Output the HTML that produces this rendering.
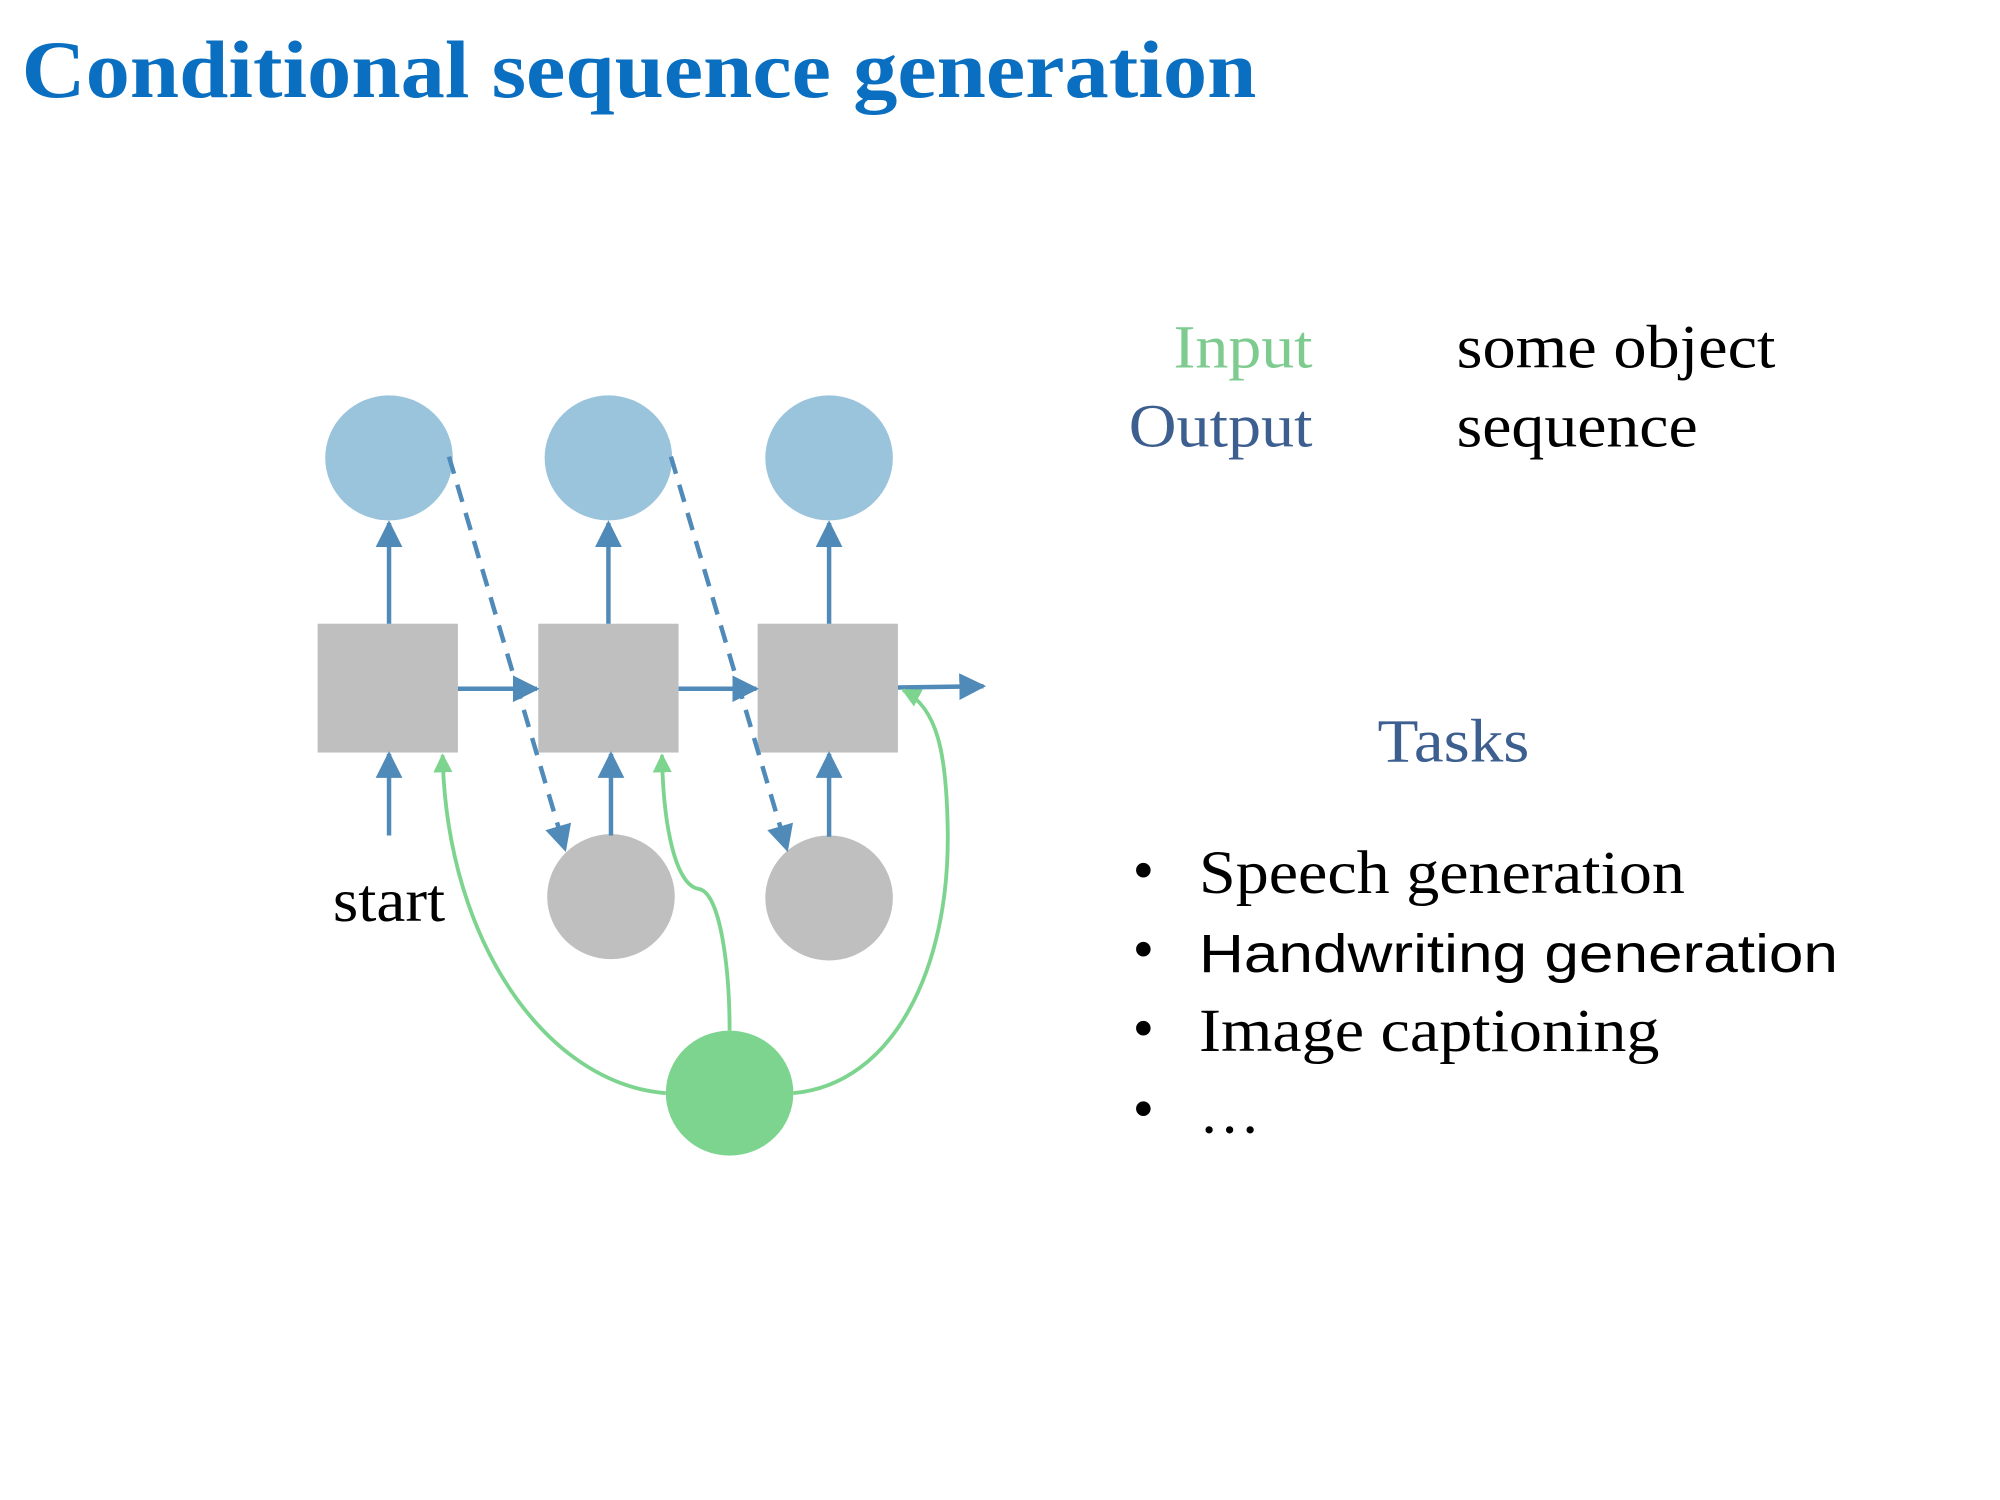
<!DOCTYPE html>
<html><head><meta charset="utf-8"><style>
html,body{margin:0;padding:0;background:#fff;}
svg{display:block;}
</style></head><body>
<svg width="2000" height="1500" viewBox="0 0 1568 1176" preserveAspectRatio="none" xmlns="http://www.w3.org/2000/svg">
<defs>
<marker id="b" viewBox="0 0 10 10" refX="9" refY="5" markerWidth="6" markerHeight="6" orient="auto" markerUnits="strokeWidth"><path d="M0,0 L10,5 L0,10 z" fill="#4F8AB8"/></marker>
<marker id="g" viewBox="0 0 10 10" refX="9" refY="5" markerWidth="5" markerHeight="5" orient="auto" markerUnits="strokeWidth"><path d="M0,0 L10,5 L0,10 z" fill="#7DD48F"/></marker>
</defs>
<rect width="1568" height="1176" fill="#fff"/>
<text x="17" y="76" font-family="Liberation Serif, serif" font-weight="bold" font-size="64" fill="#0A6FC0" textLength="968" lengthAdjust="spacingAndGlyphs">Conditional sequence generation</text>

<g fill="#9AC3DC">
<ellipse cx="305" cy="359" rx="50" ry="49"/>
<ellipse cx="477" cy="359" rx="50" ry="49"/>
<ellipse cx="650" cy="359" rx="50" ry="49"/>
</g>
<g fill="#BFBFBF">
<rect x="249" y="489" width="110" height="101"/>
<rect x="422" y="489" width="110" height="101"/>
<rect x="594" y="489" width="110" height="101"/>
<ellipse cx="479" cy="703" rx="50" ry="49"/>
<ellipse cx="650" cy="704" rx="50" ry="49"/>
</g>
<ellipse cx="572" cy="857" rx="50" ry="49" fill="#7DD48F"/>

<g stroke="#4F8AB8" stroke-width="3.5" fill="none" marker-end="url(#b)">
<line x1="305" y1="489" x2="305" y2="410"/>
<line x1="477" y1="489" x2="477" y2="410"/>
<line x1="650" y1="489" x2="650" y2="410"/>
<line x1="359" y1="540" x2="421" y2="540"/>
<line x1="532" y1="540" x2="593" y2="540"/>
<line x1="704" y1="539" x2="771" y2="538"/>
<line x1="305" y1="655" x2="305" y2="591"/>
<line x1="479" y1="655" x2="479" y2="591"/>
<line x1="650" y1="656" x2="650" y2="591"/>
<line x1="352" y1="358" x2="443" y2="666" stroke-dasharray="14,9"/>
<line x1="526" y1="358" x2="617" y2="666" stroke-dasharray="14,9"/>
</g>

<g stroke="#7DD48F" stroke-width="3" fill="none" marker-end="url(#g)">
<path d="M522,857 C430,850 350,740 347,592"/>
<path d="M572,808 C572,760 565,700 548,697 C530,694 520,650 519,592"/>
<path d="M622,857 C700,850 745,760 743,650 C742,590 735,555 708,541"/>
</g>

<g font-family="Liberation Serif, serif" font-size="48" lengthAdjust="spacingAndGlyphs">
<text x="261" y="722" fill="#000" textLength="88" lengthAdjust="spacingAndGlyphs">start</text>
<text x="920" y="288" fill="#7DCB8F" textLength="109" lengthAdjust="spacingAndGlyphs">Input</text>
<text x="885" y="350" fill="#3D5F8F" textLength="144" lengthAdjust="spacingAndGlyphs">Output</text>
<text x="1142" y="288" fill="#000" textLength="250" lengthAdjust="spacingAndGlyphs">some object</text>
<text x="1142" y="350" fill="#000" textLength="189" lengthAdjust="spacingAndGlyphs">sequence</text>
<text x="1080" y="597" fill="#3D5F8F" textLength="119" lengthAdjust="spacingAndGlyphs">Tasks</text>
<text x="888" y="698" fill="#000">•</text>
<text x="940" y="700" fill="#000" textLength="381" lengthAdjust="spacingAndGlyphs">Speech generation</text>
<text x="888" y="760" fill="#000">•</text>
<text x="888" y="822" fill="#000">•</text>
<text x="940" y="824" fill="#000" textLength="361" lengthAdjust="spacingAndGlyphs">Image captioning</text>
<text x="888" y="885" fill="#000">•</text>
<text x="940" y="888" fill="#000">…</text>
</g>
<text x="940" y="762" font-family="Liberation Sans, sans-serif" font-size="42" fill="#000" textLength="501" lengthAdjust="spacingAndGlyphs">Handwriting generation</text>
</svg>
</body></html>
